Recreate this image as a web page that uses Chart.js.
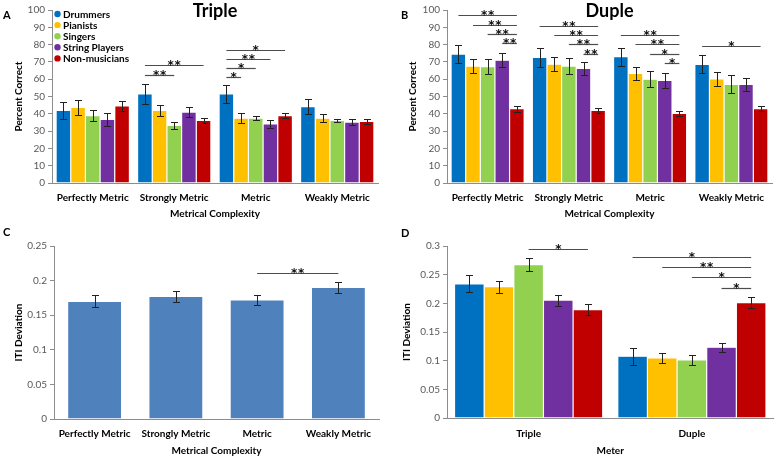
<!DOCTYPE html>
<html><head><meta charset="utf-8">
<script src="https://cdn.jsdelivr.net/npm/chart.js@4.4.1/dist/chart.umd.min.js"></script>
<style>
html,body{margin:0;padding:0;background:#fff;}
#wrap{position:relative;width:777px;height:459px;overflow:hidden;background:#fff;}
canvas{position:absolute;}
</style></head><body>
<div id="wrap">
<canvas id="cA" width="388" height="225" style="left:0;top:0"></canvas>
<canvas id="cB" width="389" height="225" style="left:388px;top:0"></canvas>
<canvas id="cC" width="388" height="234" style="left:0;top:225px"></canvas>
<canvas id="cD" width="389" height="234" style="left:388px;top:225px"></canvas>
</div>
<script>
// ---------- categories / groups ----------
const metricCategories = ['Perfectly Metric', 'Strongly Metric', 'Metric', 'Weakly Metric'];
const meterCategories = ['Triple', 'Duple'];
const groups = ['Drummers', 'Pianists', 'Singers', 'String Players', 'Non-musicians'];
const groupColors = ['#0070C0', '#FFC000', '#92D050', '#7030A0', '#C00000'];

// ---------- Panel A: Triple, percent correct ----------
const tripleDrummers = [42.0, 51.5, 51.5, 44.2];
const triplePianists = [43.7, 41.9, 37.5, 37.5];
const tripleSingers  = [39.0, 33.3, 37.5, 36.2];
const tripleStrings  = [36.7, 41.0, 34.2, 35.2];
const tripleNonMus   = [44.6, 36.2, 39.0, 35.6];
const tripleDrummersErr = [4.9, 6.0, 5.4, 4.4];
const triplePianistsErr = [4.2, 3.3, 2.9, 2.5];
const tripleSingersErr  = [3.0, 2.1, 1.2, 0.8];
const tripleStringsErr  = [3.7, 2.9, 2.3, 1.9];
const tripleNonMusErr   = [2.7, 1.5, 1.5, 1.5];
// [category A, group A, category B, group B, line height (value), label]
const tripleSig = [
  [1, 0, 1, 2, 62.7, '**'], [1, 0, 1, 4, 68.1, '**'],
  [2, 0, 2, 1, 61.2, '*'], [2, 0, 2, 2, 66.5, '*'], [2, 0, 2, 3, 71.5, '**'], [2, 0, 2, 4, 76.7, '*']
];

// ---------- Panel B: Duple, percent correct ----------
const dupleDrummers = [74.5, 72.6, 73.0, 68.5];
const duplePianists = [67.6, 68.7, 63.3, 60.2];
const dupleSingers  = [67.2, 67.6, 60.0, 57.0];
const dupleStrings  = [71.0, 66.2, 59.3, 57.0];
const dupleNonMus   = [43.0, 41.9, 40.3, 43.0];
const dupleDrummersErr = [5.0, 5.6, 5.2, 5.2];
const duplePianistsErr = [3.8, 3.9, 4.0, 4.2];
const dupleSingersErr  = [4.2, 4.8, 4.6, 5.2];
const dupleStringsErr  = [4.0, 3.5, 4.2, 3.9];
const dupleNonMusErr   = [1.7, 1.5, 1.3, 1.4];
const dupleSig = [
  [0, 0, 0, 4, 97.1, '**'], [0, 1, 0, 4, 91.5, '**'], [0, 2, 0, 4, 86.1, '**'], [0, 3, 0, 4, 80.9, '**'],
  [1, 0, 1, 4, 90.9, '**'], [1, 1, 1, 4, 85.5, '**'], [1, 2, 1, 4, 80.1, '**'], [1, 3, 1, 4, 74.7, '**'],
  [2, 0, 2, 4, 85.5, '**'], [2, 1, 2, 4, 80.1, '**'], [2, 2, 2, 4, 74.5, '*'], [2, 3, 2, 4, 69.5, '*'],
  [3, 0, 3, 4, 79.2, '*']
];

// ---------- Panel C: ITI deviation by metrical complexity ----------
const itiComplexity    = [0.170, 0.177, 0.172, 0.190];
const itiComplexityErr = [0.0085, 0.0077, 0.0067, 0.0082];
const itiComplexitySig = [[2, 0, 3, 0, 0.2107, '**']];

// ---------- Panel D: ITI deviation by meter ----------
const meterDrummers = [0.234, 0.1077];
const meterPianists = [0.229, 0.1048];
const meterSingers  = [0.2676, 0.1013];
const meterStrings  = [0.2056, 0.1234];
const meterNonMus   = [0.1888, 0.201];
const meterDrummersErr = [0.015, 0.015];
const meterPianistsErr = [0.0105, 0.008];
const meterSingersErr  = [0.012, 0.0087];
const meterStringsErr  = [0.0098, 0.008];
const meterNonMusErr   = [0.0093, 0.0098];
const meterSig = [
  [0, 2, 0, 4, 0.2954, '*'],
  [1, 0, 1, 4, 0.2809, '*'], [1, 1, 1, 4, 0.2635, '**'], [1, 2, 1, 4, 0.2456, '*'], [1, 3, 1, 4, 0.2276, '*']
];

// tick labels
const pctTicks = [0, 10, 20, 30, 40, 50, 60, 70, 80, 90, 100];
const itiTicksC = ['0', '0.05', '0.1', '0.15', '0.2', '0.25'];
const itiTicksD = ['0', '0.05', '0.1', '0.15', '0.2', '0.25', '0.3'];

// ---------- drawing helpers ----------
const FONT = 'Lato';
const TXT = '#000';
const AXIS = '#8c8c8c';

const annot = {
  id: 'annot',
  afterDatasetsDraw(chart, args, o) {
    const ctx = chart.ctx, ys = chart.scales.y;
    ctx.save();
    // error bars
    ctx.strokeStyle = '#222';
    ctx.lineWidth = 1;
    (o.errors || []).forEach((errs, di) => {
      const meta = chart.getDatasetMeta(di);
      const vals = chart.data.datasets[di].data;
      meta.data.forEach((bar, i) => {
        const x = Math.round(bar.x) + 0.5;
        const y1 = Math.round(ys.getPixelForValue(vals[i] + errs[i])) + 0.5;
        const y2 = Math.round(ys.getPixelForValue(vals[i] - errs[i])) + 0.5;
        ctx.beginPath();
        ctx.moveTo(x, y1); ctx.lineTo(x, y2);
        ctx.moveTo(x - 3.5, y1); ctx.lineTo(x + 3.5, y1);
        ctx.moveTo(x - 3.5, y2); ctx.lineTo(x + 3.5, y2);
        ctx.stroke();
      });
    });
    // significance lines
    (o.sig || []).forEach(s => {
      const x1 = chart.getDatasetMeta(s[1]).data[s[0]].x;
      const x2 = chart.getDatasetMeta(s[3]).data[s[2]].x;
      const yy = Math.round(ys.getPixelForValue(s[4])) + 0.5;
      ctx.strokeStyle = '#4d4d4d';
      ctx.lineWidth = 1.2;
      ctx.beginPath(); ctx.moveTo(x1, yy); ctx.lineTo(x2, yy); ctx.stroke();
      ctx.fillStyle = '#111';
      ctx.font = 'bold 12px "DejaVu Sans"';
      ctx.textAlign = 'center';
      ctx.textBaseline = 'alphabetic';
      const n = s[5].length, cx = (x1 + x2) / 2, step = 7;
      for (let k = 0; k < n; k++) {
        ctx.fillText('*', cx + (k - (n - 1) / 2) * step, yy + 3.5);
      }
    });
    ctx.restore();
  },
  afterDraw(chart, args, o) {
    const ctx = chart.ctx, ca = chart.chartArea;
    ctx.save();
    if (o.letter) {
      ctx.fillStyle = '#000';
      ctx.font = 'bold 11px ' + FONT;
      ctx.textAlign = 'left';
      ctx.textBaseline = 'alphabetic';
      ctx.fillText(o.letter, o.letterX, o.letterY);
    }
    if (o.title) {
      ctx.fillStyle = '#000';
      ctx.font = 'bold 18px ' + FONT;
      ctx.textAlign = 'center';
      ctx.textBaseline = 'alphabetic';
      ctx.fillText(o.title, (ca.left + ca.right) / 2, ca.top + 6.5);
    }
    if (o.legend) {
      chart.data.datasets.forEach((ds, i) => {
        const cy = ca.top + 4 + i * 11.1;
        ctx.fillStyle = ds.backgroundColor;
        ctx.beginPath(); ctx.arc(ca.left + 5.5, cy, 3.2, 0, Math.PI * 2); ctx.fill();
        ctx.fillStyle = '#000';
        ctx.font = 'bold 10px ' + FONT;
        ctx.textAlign = 'left';
        ctx.textBaseline = 'middle';
        ctx.fillText(ds.label, ca.left + 11, cy + 0.5);
      });
    }
    ctx.restore();
  }
};

function scales(p) {
  return {
    x: {
      grid: { display: true, drawOnChartArea: false, drawTicks: false, color: AXIS },
      border: { display: true, color: AXIS, width: 1 },
      ticks: { color: TXT, font: { family: FONT, weight: 'bold', size: 10 }, padding: p.xPad, maxRotation: 0, autoSkip: false },
      title: { display: true, text: p.xTitle, color: TXT, font: { family: FONT, weight: 'bold', size: 10 }, padding: { top: 0, bottom: p.xTitlePad } },
      afterFit: s => { s.height = p.xHeight; }
    },
    y: {
      min: 0, max: p.max,
      afterBuildTicks: s => { s.ticks = p.ticks.map(t => ({ value: +t })); },
      ticks: { color: '#595959', font: { family: FONT, size: 10 }, padding: 3,
               callback: (v, i) => String(p.ticks[i]) },
      grid: { display: true, drawOnChartArea: false, drawTicks: true, tickLength: 4, color: AXIS },
      border: { display: true, color: AXIS, width: 1 },
      title: { display: true, text: p.yTitle, color: TXT, font: { family: FONT, weight: 'bold', size: 10 }, padding: { top: p.yTitlePad, bottom: 0 } },
      afterFit: s => { s.width = p.yWidth; }
    }
  };
}

function groupDatasets(seriesList, catPct) {
  return seriesList.map((d, i) => ({
    label: groups[i], data: d, backgroundColor: groupColors[i],
    borderColor: 'rgba(255,255,255,0.35)', borderWidth: 0.6,
    categoryPercentage: catPct, barPercentage: 1.0
  }));
}

function make(id, labels, datasets, sc, pad, plug) {
  return new Chart(document.getElementById(id), {
    type: 'bar',
    data: { labels, datasets },
    options: {
      responsive: false, animation: false,
      layout: { padding: pad },
      scales: sc,
      plugins: { legend: { display: false }, tooltip: { enabled: false }, annot: plug }
    },
    plugins: [annot]
  });
}

// Panel A
make('cA', metricCategories,
  groupDatasets([tripleDrummers, triplePianists, tripleSingers, tripleStrings, tripleNonMus], 0.9),
  scales({ max: 100, ticks: pctTicks, xTitle: 'Metrical Complexity', yTitle: 'Percent Correct',
           xPad: 9, xTitlePad: 5.5, xHeight: 42, yWidth: 52, yTitlePad: 12.5 }),
  { top: 10, right: 10, left: 0, bottom: 0 },
  { errors: [tripleDrummersErr, triplePianistsErr, tripleSingersErr, tripleStringsErr, tripleNonMusErr],
    sig: tripleSig, letter: 'A', letterX: 3, letterY: 19, title: 'Triple', legend: true });

// Panel B
make('cB', metricCategories,
  groupDatasets([dupleDrummers, duplePianists, dupleSingers, dupleStrings, dupleNonMus], 0.9),
  scales({ max: 100, ticks: pctTicks, xTitle: 'Metrical Complexity', yTitle: 'Percent Correct',
           xPad: 9, xTitlePad: 5.5, xHeight: 42, yWidth: 59, yTitlePad: 19 }),
  { top: 10, right: 5, left: 0, bottom: 0 },
  { errors: [dupleDrummersErr, duplePianistsErr, dupleSingersErr, dupleStringsErr, dupleNonMusErr],
    sig: dupleSig, letter: 'B', letterX: 13, letterY: 19, title: 'Duple' });

// Panel C
make('cC', metricCategories,
  [{ label: 'ITI Deviation', data: itiComplexity, backgroundColor: '#4F81BD',
     borderColor: 'rgba(255,255,255,0.35)', borderWidth: 0.6, categoryPercentage: 1.0, barPercentage: 0.665 }],
  scales({ max: 0.25, ticks: itiTicksC, xTitle: 'Metrical Complexity', yTitle: 'ITI Deviation',
           xPad: 8.5, xTitlePad: 2.5, xHeight: 40, yWidth: 54, yTitlePad: 13 }),
  { top: 21, right: 9, left: 0, bottom: 0 },
  { errors: [itiComplexityErr], sig: itiComplexitySig, letter: 'C', letterX: 3, letterY: 11 });

// Panel D
make('cD', meterCategories,
  groupDatasets([meterDrummers, meterPianists, meterSingers, meterStrings, meterNonMus], 0.908),
  scales({ max: 0.3, ticks: itiTicksD, xTitle: 'Meter', yTitle: 'ITI Deviation',
           xPad: 10, xTitlePad: 2.5, xHeight: 41, yWidth: 59, yTitlePad: 13 }),
  { top: 21, right: 3.5, left: 0, bottom: 0 },
  { errors: [meterDrummersErr, meterPianistsErr, meterSingersErr, meterStringsErr, meterNonMusErr],
    sig: meterSig, letter: 'D', letterX: 13, letterY: 12 });
</script>
</body></html>
